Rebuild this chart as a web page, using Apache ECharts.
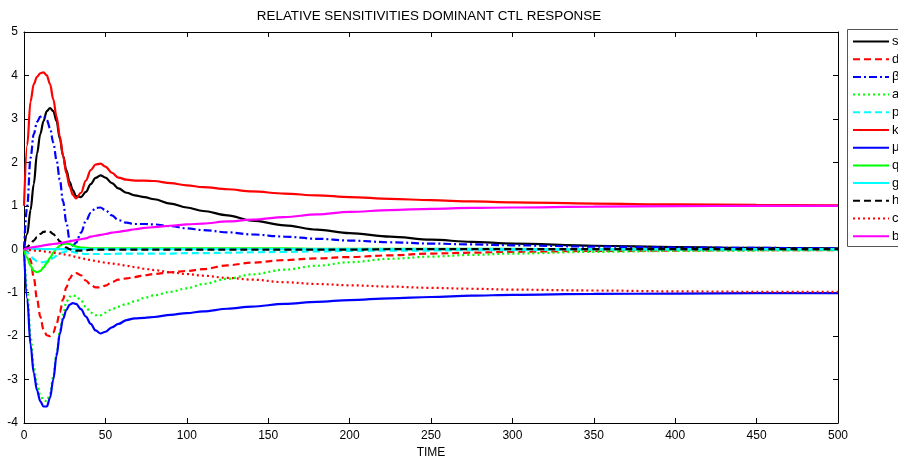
<!DOCTYPE html>
<html>
<head>
<meta charset="utf-8">
<script src="https://cdn.jsdelivr.net/npm/echarts@6/dist/echarts.min.js"></script>
<style>
html,body{margin:0;padding:0;background:#fff;}
#chart{width:898px;height:457px;}
</style>
</head>
<body>
<div id="chart"></div>
<script>
const TITLE = 'RELATIVE SENSITIVITIES DOMINANT CTL RESPONSE';
const X_NAME = 'TIME';
const TIME = [0,2,4,6,8,10,12,14,16,18,20,22,24,26,28,30,32,35,38,41,44,47,50,54,58,63,68,74,80,90,100,110,125,140,160,180,200,225,250,275,300,350,400,450,500];

const S_VALS = [0,0.35,0.9,1.5,2.2,2.65,2.95,3.18,3.25,3.18, 2.95,2.55,2.15,1.82,1.55,1.36,1.22,1.2,1.32,1.5, 1.64,1.7,1.65,1.52,1.4,1.3,1.24,1.2,1.15,1.05, 0.96,0.88,0.78,0.66,0.55,0.45,0.37,0.29,0.22,0.17, 0.13,0.08,0.05,0.03,0.02];
const D_VALS = [0,-0.05,-0.25,-0.65,-1.15,-1.55,-1.85,-1.98,-2.0,-1.92, -1.72,-1.45,-1.15,-0.88,-0.68,-0.58,-0.55,-0.6,-0.72,-0.82, -0.88,-0.88,-0.84,-0.76,-0.7,-0.67,-0.64,-0.6,-0.57,-0.53, -0.5,-0.46,-0.37,-0.31,-0.25,-0.21,-0.18,-0.14,-0.1,-0.08, -0.06,-0.04,-0.03,-0.02,-0.02];
const BETA_VALS = [0,1.0,2.1,2.65,2.93,3.05,3.07,2.98,2.78,2.45, 2.05,1.6,1.1,0.62,0.22,0.08,0.15,0.38,0.65,0.84, 0.95,0.96,0.9,0.78,0.67,0.61,0.58,0.58,0.57,0.53, 0.48,0.44,0.39,0.34,0.29,0.24,0.2,0.16,0.13,0.11, 0.09,0.06,0.04,0.03,0.02];
const A_VALS = [0,-0.95,-2.0,-2.7,-3.1,-3.35,-3.48,-3.5,-3.32,-2.92, -2.4,-1.9,-1.5,-1.22,-1.09,-1.06,-1.08,-1.18,-1.33,-1.46, -1.52,-1.52,-1.46,-1.38,-1.32,-1.26,-1.2,-1.12,-1.06,-0.98, -0.9,-0.8,-0.68,-0.58,-0.47,-0.38,-0.3,-0.22,-0.17,-0.13, -0.1,-0.06,-0.04,-0.03,-0.02];
const P_VALS = [0,-0.08,-0.16,-0.23,-0.28,-0.3,-0.3,-0.28,-0.25,-0.2, -0.15,-0.1,-0.07,-0.05,-0.05,-0.06,-0.08,-0.1,-0.11,-0.11, -0.11,-0.11,-0.11,-0.11,-0.1,-0.1,-0.1,-0.1,-0.1,-0.1, -0.09,-0.09,-0.08,-0.07,-0.06,-0.05,-0.04,-0.03,-0.03,-0.02, -0.02,-0.01,-0.01,-0.01,-0.01];
const K_VALS = [1.0,2.4,3.4,3.8,3.97,4.05,4.07,4.0,3.8,3.45, 3.05,2.6,2.15,1.75,1.45,1.25,1.17,1.3,1.58,1.82, 1.95,1.97,1.9,1.76,1.65,1.6,1.58,1.58,1.57,1.52, 1.47,1.43,1.38,1.33,1.28,1.24,1.2,1.16,1.13,1.1, 1.08,1.05,1.03,1.02,1.01];
const MU_VALS = [0,-1.15,-2.2,-2.85,-3.25,-3.5,-3.62,-3.62,-3.42,-3.0, -2.45,-1.95,-1.6,-1.4,-1.28,-1.24,-1.26,-1.38,-1.55,-1.72, -1.87,-1.94,-1.9,-1.8,-1.72,-1.63,-1.59,-1.58,-1.56,-1.51, -1.47,-1.43,-1.37,-1.32,-1.26,-1.21,-1.17,-1.13,-1.1,-1.07, -1.05,-1.03,-1.02,-1.01,-1.01];
const Q_VALS = [0,-0.2,-0.38,-0.5,-0.53,-0.5,-0.42,-0.32,-0.2,-0.08, 0.02,0.08,0.12,0.13,0.12,0.09,0.06,0.04,0.03,0.02, 0.02,0.02,0.02,0.02,0.02,0.02,0.02,0.02,0.02,0.02, 0.02,0.02,0.02,0.02,0.02,0.01,0.01,0.01,0.01,0.01, 0.01,0,0,0,0];
const G_VALS = [0,0,0,0,0,0,0,0,0,0, 0,0,0,0,0,0,0,0,0,0, 0,0,0,0,0,0,0,0,0,0, 0,0,0,0,0,0,0,0,0,0, 0,0,0,0,0];
const H_VALS = [0,0.05,0.12,0.2,0.28,0.35,0.4,0.42,0.4,0.35, 0.27,0.18,0.1,0.04,0.0,-0.02,-0.03,-0.03,-0.02,-0.01, -0.01,-0.01,-0.01,-0.01,-0.01,-0.01,-0.01,-0.01,-0.01,-0.01, -0.01,-0.01,-0.01,-0.01,-0.01,-0.01,-0.01,0,0,0, 0,0,0,0,0];
const C_VALS = [0,-0.01,-0.02,-0.03,-0.03,-0.04,-0.05,-0.06,-0.07,-0.08, -0.09,-0.1,-0.11,-0.13,-0.14,-0.16,-0.18,-0.2,-0.23,-0.25, -0.27,-0.29,-0.31,-0.33,-0.35,-0.38,-0.41,-0.45,-0.48,-0.53, -0.57,-0.61,-0.66,-0.7,-0.76,-0.8,-0.83,-0.86,-0.89,-0.91, -0.93,-0.95,-0.97,-0.98,-0.98];
const B_VALS = [0,0.02,0.04,0.05,0.06,0.07,0.09,0.1,0.11,0.12, 0.13,0.14,0.15,0.17,0.18,0.2,0.21,0.23,0.25,0.29, 0.31,0.33,0.35,0.38,0.4,0.43,0.46,0.49,0.51,0.54, 0.57,0.59,0.64,0.68,0.74,0.8,0.86,0.9,0.93,0.95, 0.96,0.98,0.99,1.0,1.0];

const SERIES_NAMES = ['s','d','\u03b2','a','p','k','\u03bc','q','g','h','c','b'];
const SERIES_VALUES = [S_VALS,D_VALS,BETA_VALS,A_VALS,P_VALS,K_VALS,MU_VALS,Q_VALS,G_VALS,H_VALS,C_VALS,B_VALS];
const SERIES_COLORS = ['#000000','#ff0000','#0000ff','#00ff00','#00ffff','#ff0000','#0000ff','#00ff00','#00ffff','#000000','#ff0000','#ff00ff'];
const DASH = {solid:'solid', dashed:[7,4], dashdot:[8,3,2,3], dotted:[2,3]};
const SERIES_STYLES = ['solid','dashed','dashdot','dotted','dashed','solid','solid','solid','solid','dashed','dotted','solid'];

const chart = echarts.init(document.getElementById('chart'), null, {renderer:'canvas'});
const FONT = 'Liberation Sans, Arial, sans-serif';

const series = SERIES_NAMES.map((name, i) => ({
  name: name,
  type: 'line',
  xAxisIndex: 0,
  yAxisIndex: 0,
  data: TIME.map((t, j) => [t, SERIES_VALUES[i][j]]),
  symbol: 'none',
  smooth: 0.35,
  smoothMonotone: 'x',
  lineStyle: {color: SERIES_COLORS[i], width: 2.2, type: DASH[SERIES_STYLES[i]]},
  itemStyle: {color: SERIES_COLORS[i]},
  z: 2 + i * 0.01
}));

function axisCommon() {
  return {
    axisLine: {show: true, onZero: false, lineStyle: {color: '#000', width: 1}},
    axisTick: {show: true, inside: true, length: 5, lineStyle: {color: '#000'}},
    splitLine: {show: false}
  };
}

chart.setOption({
  animation: false,
  backgroundColor: '#fff',
  title: {
    text: TITLE,
    left: 424,
    top: 5,
    textAlign: 'center',
    textStyle: {fontFamily: FONT, fontSize: 13.4, fontWeight: 'normal', color: '#000'}
  },
  grid: {left: 24, right: 60, top: 32, bottom: 34, containLabel: false, outerBoundsMode: 'none'},
  legend: {
    orient: 'vertical',
    left: 852,
    top: 35,
    padding: 0,
    itemWidth: 36,
    itemHeight: 14,
    itemGap: 4.7,
    itemStyle: {color: 'rgba(0,0,0,0)', borderWidth: 0, opacity: 0},
    textStyle: {fontFamily: FONT, fontSize: 13, color: '#000', padding: [0,0,0,-2]},
    data: SERIES_NAMES
  },
  graphic: [{
    type: 'rect',
    shape: {x: 847.5, y: 29.5, width: 60, height: 217},
    style: {fill: '#fff', stroke: '#555', lineWidth: 1},
    z: -1, silent: true
  }],
  xAxis: [
    Object.assign({
      type: 'value', min: 0, max: 500, interval: 50, position: 'bottom',
      name: X_NAME, nameLocation: 'middle', nameGap: 21,
      nameTextStyle: {fontFamily: FONT, fontSize: 12, color: '#000'},
      axisLabel: {fontFamily: FONT, fontSize: 12, color: '#000', margin: 7}
    }, axisCommon()),
    Object.assign({
      type: 'value', min: 0, max: 500, interval: 50, position: 'top',
      axisLabel: {show: false}
    }, axisCommon())
  ],
  yAxis: [
    Object.assign({
      type: 'value', min: -4, max: 5, interval: 1, position: 'left',
      axisLabel: {fontFamily: FONT, fontSize: 12, color: '#000', margin: 6}
    }, axisCommon()),
    Object.assign({
      type: 'value', min: -4, max: 5, interval: 1, position: 'right',
      axisLabel: {show: false}
    }, axisCommon())
  ],
  series: series
});
</script>
</body>
</html>
